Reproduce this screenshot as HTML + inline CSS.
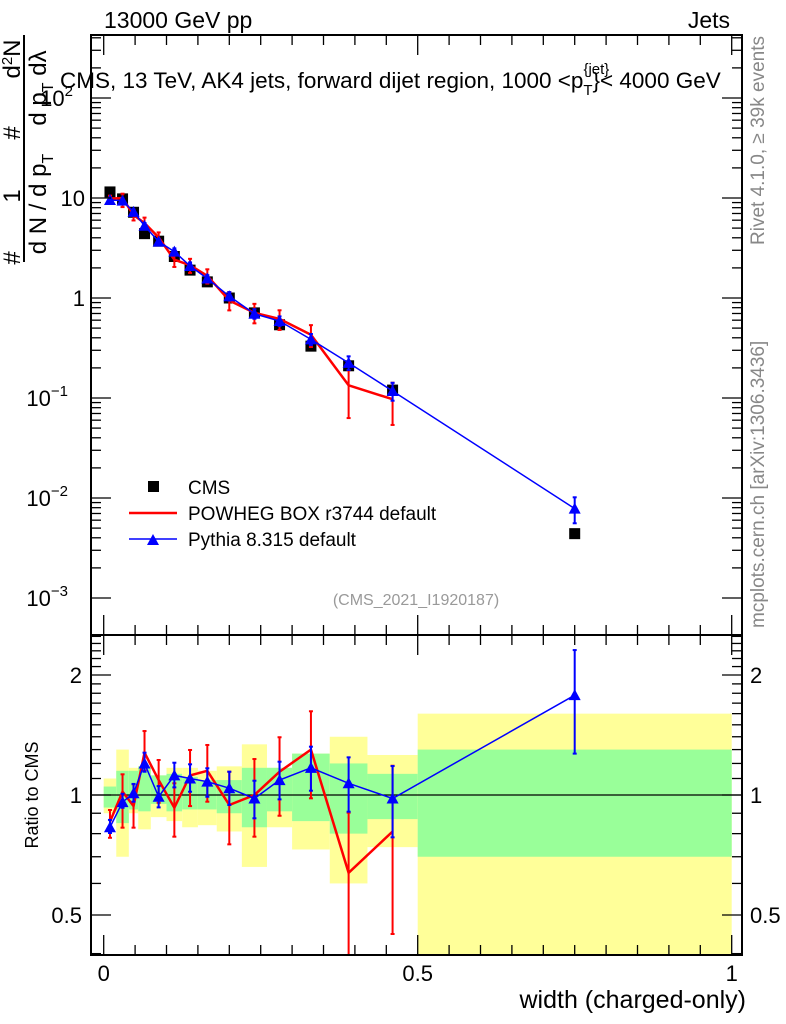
<!DOCTYPE html>
<html><head><meta charset="utf-8"><style>
body{margin:0;background:#fff}
svg{display:block;font-family:"Liberation Sans",Arial,sans-serif}
</style></head><body>
<svg id="chart" width="786" height="1024" viewBox="0 0 786 1024" xmlns="http://www.w3.org/2000/svg">
<g id="bands"></g>
<g id="marks"></g>
<g id="axes"></g>
<text x="104" y="28" font-size="23">13000 GeV pp</text>
<text x="730" y="28" font-size="23" text-anchor="end">Jets</text>
<text x="60" y="88" font-size="22.5">CMS, 13 TeV, AK4 jets, forward dijet region, 1000 &lt;p<tspan font-size="15" dy="-14">{jet}</tspan><tspan font-size="15" dx="-26" dy="21">T</tspan><tspan dy="-7" font-size="22.5">}&lt; 4000 GeV</tspan></text>
<g font-size="24">
<text transform="translate(20,258) rotate(-90)" text-anchor="middle">#</text>
<text transform="translate(20,196) rotate(-90)" text-anchor="middle">1</text>
<text transform="translate(20,133) rotate(-90)" text-anchor="middle">#</text>
<text transform="translate(20,59) rotate(-90)" text-anchor="middle">d<tspan font-size="15" dy="-8">2</tspan><tspan dy="8">N</tspan></text>
<line x1="24" y1="35" x2="24" y2="262" stroke="#000" stroke-width="2"/>
<text transform="translate(46,204) rotate(-90)" text-anchor="middle">d N / d p<tspan font-size="16" dy="7">T</tspan></text>
<text transform="translate(46,88) rotate(-90)" text-anchor="middle">d p<tspan font-size="16" dy="7">T</tspan><tspan dy="-7">  d</tspan>λ</text>
</g>
<text transform="translate(764,245) rotate(-90)" font-size="19" fill="#888">Rivet 4.1.0, ≥ 39k events</text>
<text transform="translate(764,628) rotate(-90)" font-size="19" fill="#888">mcplots.cern.ch [arXiv:1306.3436]</text>
<text x="416" y="605" font-size="16" fill="#999" text-anchor="middle">(CMS_2021_I1920187)</text>
<text transform="translate(38,795) rotate(-90)" font-size="18" text-anchor="middle">Ratio to CMS</text>
<text x="746" y="1008" font-size="25" text-anchor="end">width (charged-only)</text>
<g font-size="19">
<rect x="148" y="481" width="11" height="11" fill="#000"/>
<text x="188" y="494">CMS</text>
<line x1="129" y1="513" x2="177" y2="513" stroke="#f00" stroke-width="2.5"/>
<text x="188" y="520">POWHEG BOX r3744 default</text>
<line x1="129" y1="539" x2="177" y2="539" stroke="#00f" stroke-width="1.5"/>
<polygon points="147,545 159,545 153,534" fill="#00f"/>
<text x="188" y="546">Pythia 8.315 default</text>
</g>
</svg>
<script>
const binEdges=[0,0.02,0.04,0.055,0.075,0.1,0.125,0.15,0.18,0.22,0.26,0.3,0.36,0.42,0.5,1.0];
const xCenters=[0.01,0.03,0.0475,0.065,0.0875,0.1125,0.1375,0.165,0.2,0.24,0.28,0.33,0.39,0.46,0.75];
const cmsValues=[11.5,9.8,7.2,4.4,3.7,2.6,1.9,1.45,1.0,0.71,0.54,0.33,0.21,0.12,0.0044];
const statHi=[1.05,1.15,1.15,1.18,1.12,1.13,1.11,1.09,1.09,1.17,1.17,1.27,1.2,1.13,1.30];
const statLo=[0.93,0.85,0.92,0.91,0.95,0.91,0.92,0.92,0.90,0.83,0.91,0.86,0.80,0.87,0.70];
const totHi=[1.10,1.30,1.17,1.18,1.12,1.17,1.17,1.15,1.18,1.34,1.17,1.27,1.40,1.26,1.60];
const totLo=[0.90,0.70,0.90,0.82,0.88,0.86,0.83,0.84,0.81,0.66,0.83,0.73,0.60,0.74,0.39];
const pyRatio=[0.83,0.96,1.01,1.20,0.99,1.12,1.10,1.08,1.04,0.98,1.09,1.17,1.07,0.98,1.78];
const pyHi=[0.866,1.007,1.066,1.277,1.053,1.205,1.194,1.167,1.144,1.086,1.212,1.322,1.243,1.182,2.31];
const pyLo=[0.803,0.929,0.962,1.144,0.931,1.045,1.019,0.990,0.944,0.874,0.975,1.025,0.908,0.783,1.27];
const pwRatio=[0.857,1.019,0.938,1.277,1.09,0.929,1.12,1.15,0.944,1.0,1.144,1.30,0.638,0.81];
const pwHi=[0.917,1.127,1.064,1.447,1.224,1.070,1.297,1.335,1.144,1.231,1.396,1.622,0.903,1.184];
const pwLo=[0.781,0.828,0.828,1.151,0.956,0.786,0.938,0.962,0.752,0.786,0.887,0.981,0.3,0.448];
const topTicks=[{v:1e-3,l:"10",e:"−3"},{v:1e-2,l:"10",e:"−2"},{v:1e-1,l:"10",e:"−1"},{v:1,l:"1",e:""},{v:10,l:"10",e:""},{v:100,l:"10",e:"2"}];
const ratioTicks=[0.5,1,2];
const xTicks=[0,0.5,1];

const NS="http://www.w3.org/2000/svg";
const L=91,R=742,T=35,MID=635,B=955;
const X=v=>103.7+v*628;
const Y=v=>298-100*Math.log10(v);
const YR=v=>Math.min(B,Math.max(MID,795-398.6*Math.log10(v)));
function mk(p,tag,at){const e=document.createElementNS(NS,tag);for(const k in at)e.setAttribute(k,at[k]);p.appendChild(e);return e;}
const bands=document.getElementById('bands'),marks=document.getElementById('marks'),axes=document.getElementById('axes');
const clipTop=mk(document.querySelector('svg'),'clipPath',{id:'ct'});mk(clipTop,'rect',{x:L,y:T,width:R-L,height:MID-T});
const clipR=mk(document.querySelector('svg'),'clipPath',{id:'cr'});mk(clipR,'rect',{x:L,y:MID,width:R-L,height:B-MID});

for(let i=0;i<cmsValues.length;i++){
 const x0=X(binEdges[i]),x1=X(binEdges[i+1]);
 let r=mk(bands,'rect',{x:x0,y:YR(totHi[i]),width:x1-x0,height:YR(totLo[i])-YR(totHi[i]),fill:'#ffff99'});
 
 
 r=mk(bands,'rect',{x:x0,y:YR(statHi[i]),width:x1-x0,height:YR(statLo[i])-YR(statHi[i]),fill:'#99ff99'});
 
 
}
mk(bands,'line',{x1:L,y1:YR(1),x2:R,y2:YR(1),stroke:'#000','stroke-width':1.3});

function series(gp,vals,hi,lo,col,w,yf,tri,clip,name){
 const g=mk(gp,'g',{'clip-path':clip});
 
 
 const n=vals.length;
 mk(g,'polyline',{points:vals.map((v,i)=>X(xCenters[i])+','+yf(v,i)).join(' '),fill:'none',stroke:col,'stroke-width':w});
 for(let i=0;i<n;i++){
  const x=X(xCenters[i]),y1=yf(hi[i],i),y2=yf(lo[i],i);
  mk(g,'line',{x1:x,y1:y1,x2:x,y2:y2,stroke:col,'stroke-width':2});
  mk(g,'line',{x1:x-2,y1:y1,x2:x+2,y2:y1,stroke:col,'stroke-width':2});
  mk(g,'line',{x1:x-2,y1:y2,x2:x+2,y2:y2,stroke:col,'stroke-width':2});
  if(tri){const y=yf(vals[i],i);const p=mk(g,'polygon',{points:`${x-6},${y+5} ${x+6},${y+5} ${x},${y-6}`,fill:col});
   
   }
 }
}
const g0=mk(marks,'g',{});
cmsValues.forEach((v,i)=>{const r=mk(g0,'rect',{x:X(xCenters[i])-5.5,y:Y(v)-5.5,width:11,height:11,fill:'#000','clip-path':'url(#ct)'});
 
 });
series(marks,pwRatio,pwHi,pwLo,'#f00',2.5,(v,i)=>Y(v*cmsValues[i]),false,'url(#ct)','powheg-top');
series(marks,pyRatio,pyHi,pyLo,'#00f',1.5,(v,i)=>Y(v*cmsValues[i]),true,'url(#ct)','pythia-top');
series(marks,pwRatio,pwHi,pwLo,'#f00',2.5,v=>YR(v),false,'url(#cr)','powheg-ratio');
series(marks,pyRatio,pyHi,pyLo,'#00f',1.5,v=>YR(v),true,'url(#cr)','pythia-ratio');

mk(axes,'rect',{x:L,y:T,width:R-L,height:B-T,fill:'none',stroke:'#000','stroke-width':2});
mk(axes,'line',{x1:L,y1:MID,x2:R,y2:MID,stroke:'#000','stroke-width':2});
for(let d=-3;d<=2;d++)for(let m=1;m<10;m++){const v=m*Math.pow(10,d);const y=Y(v);if(y<T||y>MID)continue;const len=m==1?20:10;
 mk(axes,'line',{x1:L,y1:y,x2:L+len,y2:y,stroke:'#000','stroke-width':1.3});mk(axes,'line',{x1:R,y1:y,x2:R-len,y2:y,stroke:'#000','stroke-width':1.3});}
topTicks.forEach(t=>{const tx=mk(axes,'text',{x:85,y:Y(t.v)+8,'font-size':22,'text-anchor':'end'});tx.textContent=t.l;
 if(t.e){tx.setAttribute('x',t.e.length>1?68:73);const s=mk(tx,'tspan',{'font-size':15,dy:-10});s.textContent=t.e;}});
for(let k=4;k<=25;k++){const v=k/10;const y=YR(v);if(y<=MID||y>=B)continue;const maj=(k==5||k==10||k==20);const len=maj?20:10;
 mk(axes,'line',{x1:L,y1:y,x2:L+len,y2:y,stroke:'#000','stroke-width':1.3});mk(axes,'line',{x1:R,y1:y,x2:R-len,y2:y,stroke:'#000','stroke-width':1.3});}
ratioTicks.forEach(v=>{let t=mk(axes,'text',{x:82,y:YR(v)+8,'font-size':22,'text-anchor':'end'});t.textContent=v;
 t=mk(axes,'text',{x:750,y:YR(v)+8,'font-size':22});t.textContent=v;});
for(let k=0;k<=20;k++){const x=X(k*0.05);const len=(k%10==0)?20:10;
 [MID,B].forEach(yb=>{mk(axes,'line',{x1:x,y1:yb,x2:x,y2:yb-len,stroke:'#000','stroke-width':1.3});});
 mk(axes,'line',{x1:x,y1:T,x2:x,y2:T+len,stroke:'#000','stroke-width':1.3});
 mk(axes,'line',{x1:x,y1:MID,x2:x,y2:MID+len,stroke:'#000','stroke-width':1.3});}
xTicks.forEach(v=>{const t=mk(axes,'text',{x:X(v),y:981,'font-size':22,'text-anchor':'middle'});t.textContent=v;});
</script>
</body></html>
